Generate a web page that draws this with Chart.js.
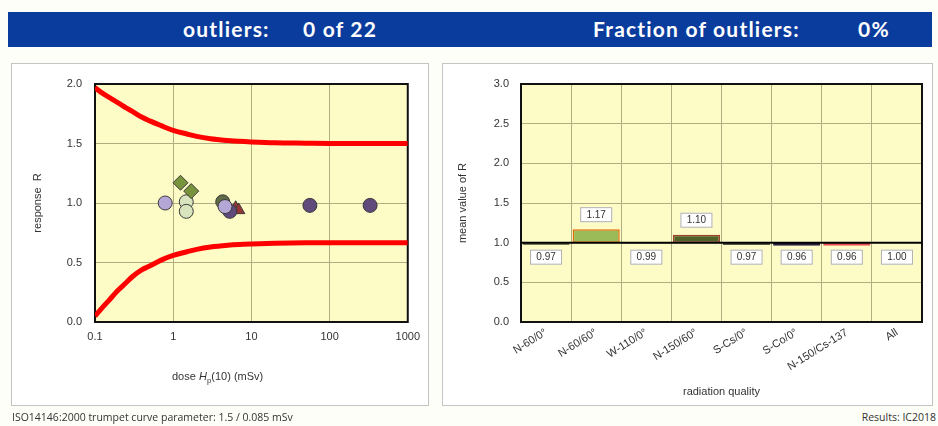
<!DOCTYPE html>
<html lang="en">
<head>
    <meta charset="UTF-8">
    <script src="https://cdn.jsdelivr.net/npm/chart.js"></script>
    <title>Dosimeter Results</title>
    <style>
        body {
            margin: 0;
            width: 938px;
            height: 426px;
            position: relative;
            background-color: #fefef9;
            font-family: 'Liberation Sans', Arial, sans-serif;
            overflow: hidden;
        }

        .banner {
            position: absolute;
            left: 8px;
            top: 12px;
            width: 924px;
            height: 35px;
            background-color: #0a3c9e;
            color: white;
            font-family: 'Lato', 'DejaVu Sans', sans-serif;
            font-weight: bold;
            font-size: 21px;
            letter-spacing: 1.2px;
        }

        .banner span {
            position: absolute;
            top: 4px;
        }

        .panel {
            position: absolute;
            top: 63px;
            height: 341px;
            border: 1px solid #c4c4c4;
            background-color: #ffffff;
        }

        .panel canvas {
            position: absolute;
            left: 0;
            top: 0;
        }

        .dose-title {
            position: absolute;
            left: 160px;
            top: 306px;
            font-size: 11px;
            color: #333;
        }

        .note {
            position: absolute;
            top: 410px;
            font-family: 'Open Sans', sans-serif;
            font-size: 10.5px;
            color: #333;
        }
    </style>
</head>
<body>

    <div class="banner">
        <span style="left: 175px;">outliers:</span>
        <span style="left: 295px;">0 of 22</span>
        <span style="left: 585px;">Fraction of outliers:</span>
        <span style="left: 850px;">0%</span>
    </div>

    <div class="panel" style="left: 11px; width: 416px;">
        <canvas id="responseChart" width="416" height="341"></canvas>
        <div class="dose-title">dose <i>H</i><sub style="font-size: 8px;">p</sub>(10) (mSv)</div>
    </div>

    <div class="panel" style="left: 442px; width: 489px;">
        <canvas id="meanChart" width="489" height="341"></canvas>
    </div>

    <div class="note" style="left: 12px;">ISO14146:2000 trumpet curve parameter: 1.5 / 0.085 mSv</div>
    <div class="note" style="right: 2px;">Results: IC2018</div>

    <script>
        // trumpet curve
        const doseGrid   = [0.1, 0.12, 0.15, 0.2, 0.25, 0.3, 0.4, 0.5, 0.7, 1, 1.5, 2, 3, 5, 7, 10, 20, 50, 100, 1000];
        const upperLimit = [1.97, 1.93, 1.89, 1.84, 1.80, 1.77, 1.72, 1.69, 1.65, 1.61, 1.58, 1.56, 1.54, 1.525, 1.518, 1.513, 1.506, 1.503, 1.501, 1.50];
        const lowerLimit = [0.05, 0.11, 0.18, 0.27, 0.33, 0.38, 0.44, 0.47, 0.52, 0.56, 0.59, 0.61, 0.63, 0.645, 0.651, 0.655, 0.661, 0.665, 0.666, 0.667];

        // individual dosimeter responses (dose in mSv, response R)
        const lavenderDose = [0.79, 4.6];
        const lavenderR    = [1.00, 0.97];
        const diamondDose  = [1.24, 1.7];
        const diamondR     = [1.17, 1.10];
        const paleDose     = [1.47, 1.47];
        const paleR        = [1.01, 0.93];
        const oliveDose    = [4.3];
        const oliveR       = [1.01];
        const purpleDose   = [5.3, 56, 330];
        const purpleR      = [0.93, 0.98, 0.98];
        const triangleDose = [6.3, 6.9];
        const triangleR    = [0.96, 0.94];

        const doseTicks = [0.1, 1, 10, 100, 1000];

        // mean value of R per radiation quality
        const qualities  = ['N-60/0°', 'N-60/60°', 'W-110/0°', 'N-150/60°', 'S-Cs/0°', 'S-Co/0°', 'N-150/Cs-137', 'All'];
        const meanValues = [0.97, 1.17, 0.99, 1.10, 0.97, 0.96, 0.96, 1.00];
        const barFill    = ['#9a9a78', '#9bbb59', '#262626', '#4f6228', '#77776a', '#403151', '#ff7c80', 'rgba(0,0,0,0)'];
        const barEdge    = ['#7a7a5a', '#e46c0a', '#111111', '#a0402a', '#5a5a4a', '#2c2040', '#e85050', 'rgba(0,0,0,0)'];

        const gridColor = '#b3ae82';
        const tickFont = { family: "'Liberation Sans', Arial, sans-serif", size: 11 };

        function pairs(xs, ys) {
            return xs.map((x, i) => ({ x: x, y: ys[i] }));
        }

        // yellow plot background and black frame
        const plotFrame = {
            id: 'plotFrame',
            beforeDraw(chart) {
                const a = chart.chartArea;
                const ctx = chart.ctx;
                ctx.save();
                ctx.fillStyle = '#fdfcc6';
                ctx.fillRect(a.left, a.top, a.right - a.left, a.bottom - a.top);
                ctx.restore();
            },
            beforeDatasetsDraw(chart) {
                const a = chart.chartArea;
                const ctx = chart.ctx;
                ctx.save();
                ctx.strokeStyle = '#111';
                ctx.lineWidth = 2;
                ctx.strokeRect(a.left, a.top, a.right - a.left, a.bottom - a.top);
                ctx.restore();
            }
        };

        function pointSet(xs, ys, style, fill, radius) {
            return {
                type: 'scatter',
                data: pairs(xs, ys),
                pointStyle: style,
                backgroundColor: fill,
                borderColor: '#3a3a3a',
                borderWidth: 1,
                pointRadius: radius
            };
        }

        function limitSet(ys) {
            return {
                type: 'line',
                data: pairs(doseGrid, ys),
                borderColor: '#ff0000',
                borderWidth: 5,
                pointRadius: 0,
                cubicInterpolationMode: 'monotone',
                fill: false
            };
        }

        new Chart(document.getElementById('responseChart'), {
            type: 'scatter',
            data: {
                datasets: [
                    limitSet(upperLimit),
                    limitSet(lowerLimit),
                    pointSet(lavenderDose, lavenderR, 'circle', '#b4a7d6', 7),
                    pointSet(diamondDose, diamondR, 'rectRot', '#77933c', 7.5),
                    pointSet(paleDose, paleR, 'circle', '#d7e4bd', 7),
                    pointSet(oliveDose, oliveR, 'circle', '#5f6b45', 7),
                    pointSet(purpleDose, purpleR, 'circle', '#604a7b', 7),
                    pointSet(triangleDose, triangleR, 'triangle', '#953735', 7)
                ]
            },
            options: {
                responsive: false,
                animation: false,
                layout: { padding: { left: 0, top: 20, right: 19, bottom: 0 } },
                plugins: { legend: { display: false }, tooltip: { enabled: false } },
                scales: {
                    x: {
                        type: 'logarithmic',
                        min: 0.1,
                        max: 1000,
                        afterFit(s) { s.height = 83; },
                        afterBuildTicks(s) { s.ticks = doseTicks.map(v => ({ value: v })); },
                        grid: { color: gridColor, drawTicks: false },
                        border: { display: false },
                        ticks: {
                            font: tickFont,
                            color: '#333',
                            padding: 8,
                            maxRotation: 0,
                            callback: v => String(v)
                        }
                    },
                    y: {
                        min: 0,
                        max: 2,
                        afterFit(s) { s.width = 83; },
                        grid: { color: gridColor, drawTicks: false },
                        border: { display: false },
                        ticks: {
                            font: tickFont,
                            color: '#333',
                            stepSize: 0.5,
                            padding: 13,
                            callback: v => v.toFixed(1)
                        },
                        title: {
                            display: true,
                            text: 'response  R',
                            font: tickFont,
                            color: '#333',
                            padding: { top: 19, bottom: 0 }
                        }
                    }
                }
            },
            plugins: [plotFrame]
        });

        // reference line at R = 1 and the value boxes
        const meanLabels = {
            id: 'meanLabels',
            afterDatasetsDraw(chart) {
                const ctx = chart.ctx;
                const a = chart.chartArea;
                const y1 = chart.scales.y.getPixelForValue(1);
                ctx.save();
                ctx.strokeStyle = '#000';
                ctx.lineWidth = 2;
                ctx.beginPath();
                ctx.moveTo(a.left, y1);
                ctx.lineTo(a.right, y1);
                ctx.stroke();

                const meta = chart.getDatasetMeta(0);
                ctx.font = "10px 'Liberation Sans', Arial, sans-serif";
                ctx.textAlign = 'center';
                ctx.textBaseline = 'middle';
                meta.data.forEach((bar, i) => {
                    const v = meanValues[i];
                    const w = 32, h = 15;
                    let top;
                    if (v > 1) {
                        top = chart.scales.y.getPixelForValue(v) - 7 - h;
                    } else {
                        top = y1 + 7;
                    }
                    ctx.fillStyle = '#ffffff';
                    ctx.fillRect(bar.x - w / 2, top, w, h);
                    ctx.strokeStyle = '#b0b0b0';
                    ctx.lineWidth = 1;
                    ctx.strokeRect(bar.x - w / 2 + 0.5, top + 0.5, w - 1, h - 1);
                    ctx.fillStyle = '#333';
                    ctx.fillText(v.toFixed(2), bar.x, top + h / 2 + 0.5);
                });
                ctx.restore();
            }
        };

        new Chart(document.getElementById('meanChart'), {
            type: 'bar',
            data: {
                labels: qualities,
                datasets: [{
                    data: meanValues.map(v => [1, v]),
                    backgroundColor: barFill,
                    borderColor: barEdge,
                    borderWidth: 1.5,
                    borderSkipped: false,
                    categoryPercentage: 1,
                    barPercentage: 0.94
                }]
            },
            options: {
                responsive: false,
                animation: false,
                layout: { padding: { left: 0, top: 20, right: 10, bottom: 0 } },
                plugins: { legend: { display: false }, tooltip: { enabled: false } },
                scales: {
                    x: {
                        afterFit(s) { s.height = 83; },
                        grid: { color: gridColor, drawTicks: false, offset: true },
                        border: { display: false },
                        ticks: {
                            font: tickFont,
                            color: '#333',
                            padding: 4,
                            minRotation: 32,
                            maxRotation: 32
                        },
                        title: {
                            display: true,
                            text: 'radiation quality',
                            font: tickFont,
                            color: '#333',
                            padding: { top: 0, bottom: 6 }
                        }
                    },
                    y: {
                        min: 0,
                        max: 3,
                        afterFit(s) { s.width = 78; },
                        grid: { color: gridColor, drawTicks: false },
                        border: { display: false },
                        ticks: {
                            font: tickFont,
                            color: '#333',
                            stepSize: 0.5,
                            padding: 12,
                            callback: v => v.toFixed(1)
                        },
                        title: {
                            display: true,
                            text: 'mean value of R',
                            font: tickFont,
                            color: '#333',
                            padding: { top: 13, bottom: 0 }
                        }
                    }
                }
            },
            plugins: [plotFrame, meanLabels]
        });
    </script>

</body>
</html>
